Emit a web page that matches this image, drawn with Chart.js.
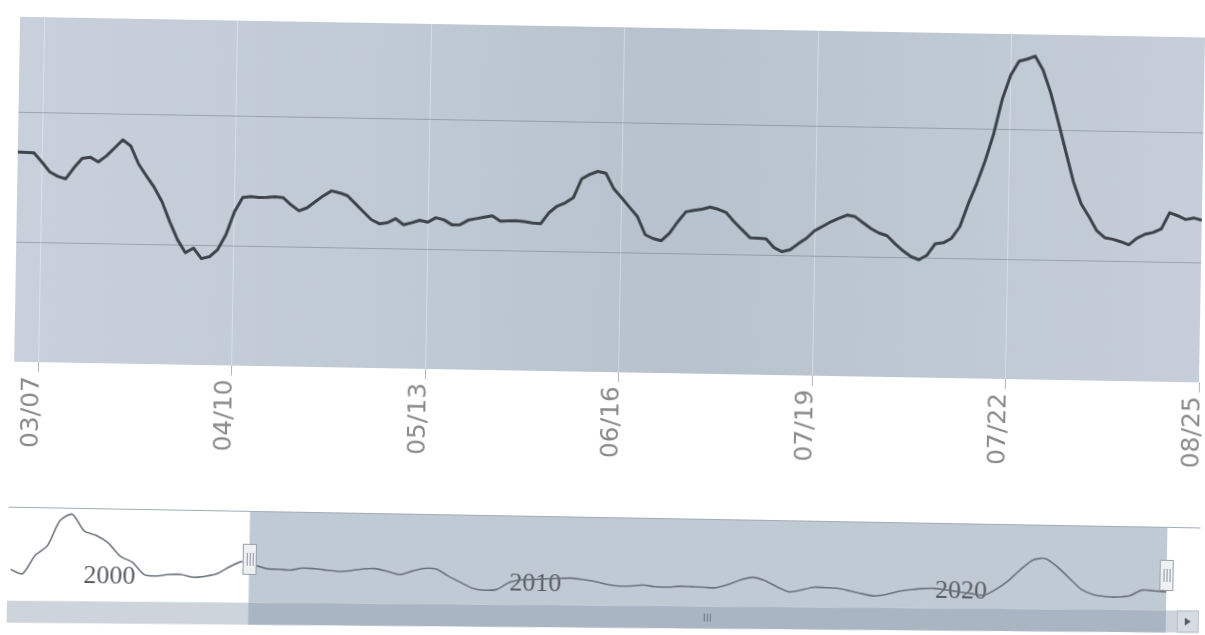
<!DOCTYPE html>
<html><head><meta charset="utf-8">
<script src="https://cdn.jsdelivr.net/npm/chart.js@4.4.1/dist/chart.umd.min.js"></script>
<style>
html,body{margin:0;padding:0;background:#fff;overflow:hidden;}
#page{position:relative;width:1205px;height:635px;transform:rotate(1deg);transform-origin:50% 50%;}
#main{position:absolute;left:0;top:0;}
#nav{position:absolute;left:0;top:480px;}
</style></head><body>
<div id="page"><canvas id="main" width="1205" height="472"></canvas><canvas id="nav" width="1205" height="155"></canvas></div>
<script>
// main (zoomed) series, one value per step
const mainValues = [169.8,169.5,169.3,162.4,154.9,151.5,149.7,158.3,165.7,166.7,
163.2,167.9,174.2,180.5,175.9,162.2,153.1,144.3,133.3,118.0,
104.3,94.4,98.0,90.0,91.6,97.2,108.8,126.6,137.8,138.5,
138.0,138.1,138.7,138.2,132.7,128.2,130.6,135.4,140.1,144.0,
142.6,140.4,134.4,128.3,122.3,119.3,120.2,123.4,118.8,120.5,
122.5,121.1,124.7,123.2,119.5,119.6,123.2,124.5,125.7,127.0,
122.8,123.3,123.5,122.8,121.9,121.5,130.0,135.2,137.9,141.9,
156.6,160.2,162.6,161.2,149.4,142.5,135.3,128.2,114.4,111.5,
110.0,115.9,124.8,132.6,133.8,134.8,136.6,135.0,132.6,125.6,
119.5,113.5,113.2,112.9,106.2,103.2,104.8,109.5,113.8,119.8,
123.3,126.9,129.7,132.3,131.1,126.5,122.1,118.8,116.9,110.8,
105.5,101.1,98.8,102.5,111.4,112.2,115.8,124.8,142.6,158.1,
175.9,196.8,223.8,242.4,253.2,254.9,257.3,246.6,229.1,206.8,
183.8,160.9,144.1,134.2,123.5,118.3,117.2,115.4,113.2,118.3,
121.5,123.0,125.9,138.4,136.2,133.4,134.7,133.0];
const mainTickIndex = [3, 27, 51, 75, 99, 123, 147];
const mainTickLabels = ['03/07', '04/10', '05/13', '06/16', '07/19', '07/22', '08/25'];
const mainGridValues = [100, 200];
const mainRange = [8, 274];

// navigator (full history) series
const navValues = [190,176,241,276,365,388,330,315,289,243,
223,180,176,182,183,174,178,188,213,232,
221,209,207,205,213,211,207,203,207,214,
215,206,196,209,219,217,193,172,152,146,
150,175,185,187,190,192,194,190,184,174,
169,170,174,169,168,172,171,170,169,181,
198,208,197,176,159,166,177,176,174,166,
157,150,156,167,174,179,180,175,169,164,
159,181,212,252,286,292,264,225,186,168,
162,161,166,187,185,182];
const navTickIndex = [6, 41, 76];
const navTickLabels = ['2000', '2010', '2020'];
const navRange = [80, 411];
const navLabelLevel = 226;
const navSelection = [19.6, 95];
const navScrollTilt = -0.009;

const plotBg = {
  id: 'plotBg',
  beforeDraw(chart) {
    const {ctx, chartArea: a} = chart;
    const g = ctx.createLinearGradient(a.left, 0, a.right, 0);
    g.addColorStop(0, '#c8d1db');
    g.addColorStop(0.35, '#bfc9d4');
    g.addColorStop(0.55, '#b7c2ce');
    g.addColorStop(0.8, '#bfc9d3');
    g.addColorStop(1, '#c6cfd9');
    ctx.save();
    ctx.fillStyle = g;
    ctx.fillRect(a.left, a.top, a.right - a.left, a.bottom - a.top);
    ctx.restore();
  }
};

new Chart(document.getElementById('main'), {
  type: 'line',
  data: {
    datasets: [{
      data: mainValues.map((v, i) => ({x: i, y: v})),
      borderColor: '#3d4349',
      borderWidth: 3,
      pointRadius: 0,
      tension: 0,
      borderJoinStyle: 'round'
    }]
  },
  options: {
    responsive: false,
    animation: false,
    events: [],
    layout: {padding: {left: 15, right: 5, top: 27, bottom: 0}},
    plugins: {legend: {display: false}, tooltip: {enabled: false}},
    scales: {
      x: {
        type: 'linear',
        min: 0,
        max: mainValues.length - 1,
        afterBuildTicks: s => { s.ticks = mainTickIndex.map(v => ({value: v})); },
        afterFit: s => { s.height = 100; s.paddingLeft = 0; s.paddingRight = 0; },
        ticks: {
          autoSkip: false, maxRotation: 90, minRotation: 90, padding: 4, labelOffset: -6,
          color: '#8a8a8a', font: {family: 'DejaVu Sans', size: 25},
          callback: v => { const k = mainTickIndex.indexOf(v); return k < 0 ? '' : mainTickLabels[k]; }
        },
        grid: {color: 'rgba(255,255,255,0.35)', lineWidth: 1, tickLength: 10, tickColor: '#b5b5b5'},
        border: {display: false}
      },
      y: {
        min: mainRange[0], max: mainRange[1],
        afterBuildTicks: s => { s.ticks = mainGridValues.map(v => ({value: v})); },
        afterFit: s => { s.width = 0; },
        ticks: {display: false},
        grid: {color: 'rgba(100,110,125,0.45)', drawTicks: false},
        border: {display: false}
      }
    }
  },
  plugins: [plotBg]
});

const navDecor = {
  id: 'navDecor',
  beforeDraw(chart) {
    const {ctx, chartArea: a, scales: {x}} = chart;
    const x0 = x.getPixelForValue(navSelection[0]);
    const x1 = x.getPixelForValue(navSelection[1]);
    const bot = px => a.bottom + navScrollTilt * (px - 10);
    ctx.save();
    ctx.fillStyle = '#c0cad5';
    ctx.beginPath();
    ctx.moveTo(x0, a.top);
    ctx.lineTo(x1, a.top);
    ctx.lineTo(x1, bot(x1));
    ctx.lineTo(x0, bot(x0));
    ctx.closePath();
    ctx.fill();
    ctx.strokeStyle = '#a3abb4';
    ctx.lineWidth = 1;
    ctx.beginPath();
    ctx.moveTo(12, a.top + 0.5);
    ctx.lineTo(1204, a.top + 0.5);
    ctx.stroke();
    ctx.restore();
  },
  afterDraw(chart) {
    const {ctx, chartArea: a, scales: {x}} = chart;
    const x0 = x.getPixelForValue(navSelection[0]);
    const x1 = x.getPixelForValue(navSelection[1]);
    const sy = a.bottom, sh = 22;
    ctx.save();
    ctx.transform(1, navScrollTilt, 0, 1, 0, -navScrollTilt * 10);
    ctx.fillStyle = '#cdd4dc';
    ctx.fillRect(12, sy, 1192, sh);
    ctx.fillStyle = '#a9b5c2';
    ctx.fillRect(x0, sy, x1 - x0, sh);
    const gx = (x0 + x1) / 2;
    ctx.strokeStyle = '#6d7680';
    ctx.lineWidth = 1;
    for (let k = -1; k <= 1; k++) {
      ctx.beginPath();
      ctx.moveTo(Math.round(gx + k * 3) + 0.5, sy + 7);
      ctx.lineTo(Math.round(gx + k * 3) + 0.5, sy + sh - 7);
      ctx.stroke();
    }
    ctx.fillStyle = '#d6dce2';
    ctx.fillRect(1182, sy, 22, sh);
    ctx.strokeStyle = '#b6bec7';
    ctx.strokeRect(1182.5, sy + 0.5, 21, sh - 1);
    ctx.fillStyle = '#555c63';
    ctx.beginPath();
    ctx.moveTo(1190, sy + 7);
    ctx.lineTo(1196, sy + sh / 2);
    ctx.lineTo(1190, sy + sh - 7);
    ctx.closePath();
    ctx.fill();
    ctx.restore();
    ctx.save();
    const hy = a.top + 33, hh = 31, hw = 14;
    [x0, x1].forEach(px => {
      ctx.fillStyle = '#eef0f2';
      ctx.strokeStyle = '#9aa2ab';
      ctx.fillRect(px - hw / 2, hy, hw, hh);
      ctx.strokeRect(Math.round(px - hw / 2) + 0.5, hy + 0.5, hw - 1, hh - 1);
      ctx.strokeStyle = '#8d959e';
      for (let k = -1; k <= 1; k++) {
        ctx.beginPath();
        ctx.moveTo(Math.round(px + k * 3) + 0.5, hy + 9);
        ctx.lineTo(Math.round(px + k * 3) + 0.5, hy + hh - 9);
        ctx.stroke();
      }
    });
    ctx.restore();
  }
};

new Chart(document.getElementById('nav'), {
  type: 'line',
  data: {
    datasets: [{
      data: navValues.map((v, i) => ({x: i, y: v})),
      borderColor: '#6a727b',
      borderWidth: 1.6,
      pointRadius: 0,
      tension: 0.25
    }]
  },
  options: {
    responsive: false,
    animation: false,
    events: [],
    layout: {padding: {left: 15, right: 34, top: 37, bottom: 24}},
    plugins: {legend: {display: false}, tooltip: {enabled: false}},
    scales: {
      x: {
        type: 'linear',
        position: {y: navLabelLevel},
        min: 0,
        max: navValues.length - 1,
        afterBuildTicks: s => { s.ticks = navTickIndex.map(v => ({value: v})); },
        ticks: {
          autoSkip: false, maxRotation: 0, align: 'start', padding: 0,
          color: '#595d61', font: {family: 'Liberation Serif', size: 26},
          callback: v => { const k = navTickIndex.indexOf(v); return k < 0 ? '' : navTickLabels[k]; }
        },
        grid: {display: false, drawTicks: false},
        border: {display: false}
      },
      y: {display: false, min: navRange[0], max: navRange[1]}
    }
  },
  plugins: [navDecor]
});
</script>
</body></html>
